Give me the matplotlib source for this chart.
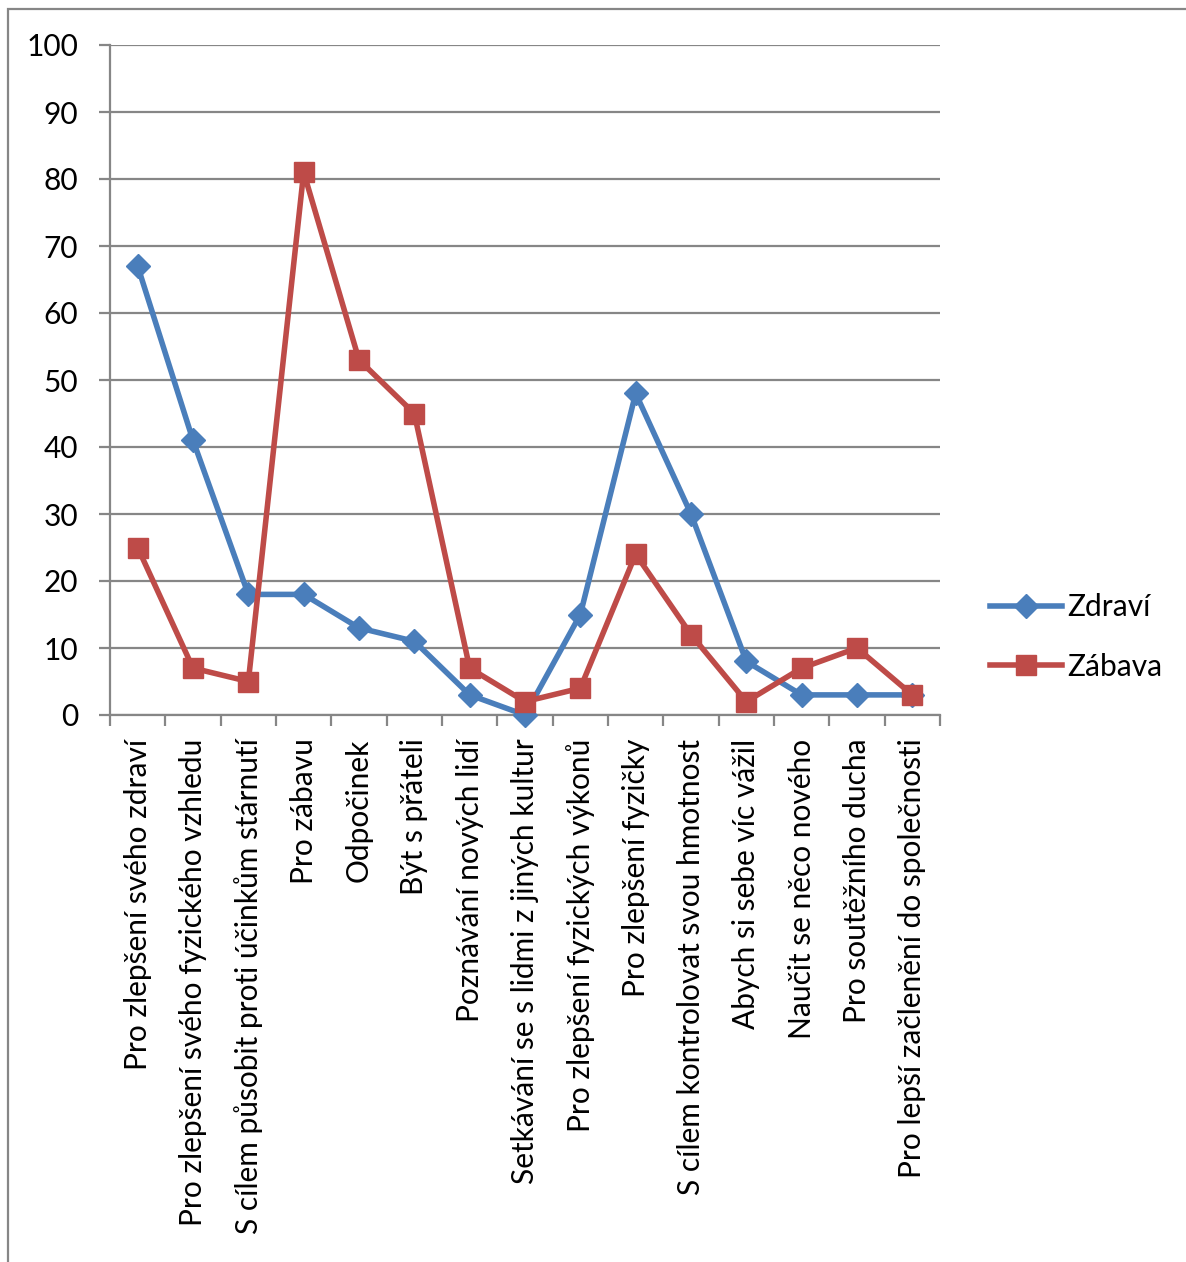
import matplotlib
matplotlib.use("Agg")
import matplotlib.pyplot as plt
from matplotlib.patches import Rectangle
from matplotlib.lines import Line2D

plt.rcParams['font.family'] = ['Lato', 'DejaVu Sans']

categories = [
    "Pro zlepšení svého zdraví",
    "Pro zlepšení svého fyzického vzhledu",
    "S cílem působit proti účinkům stárnutí",
    "Pro zábavu",
    "Odpočinek",
    "Být s přáteli",
    "Poznávání nových lidí",
    "Setkávání se s lidmi z jiných kultur",
    "Pro zlepšení fyzických výkonů",
    "Pro zlepšení fyzičky",
    "S cílem kontrolovat svou hmotnost",
    "Abych si sebe víc vážil",
    "Naučit se něco nového",
    "Pro soutěžního ducha",
    "Pro lepší začlenění do společnosti",
]
zdravi = [67, 41, 18, 18, 13, 11, 3, 0, 15, 48, 30, 8, 3, 3, 3]
zabava = [25, 7, 5, 81, 53, 45, 7, 2, 4, 24, 12, 2, 7, 10, 3]
y_ticks = [0, 10, 20, 30, 40, 50, 60, 70, 80, 90, 100]

BLUE = "#4A7EBB"
RED = "#BE4B48"
GREY = "#868686"
FS = 21.5

W, H = 1186, 1262
fig = plt.figure(figsize=(W / 100, H / 100), dpi=100)

# chart-area frame
fig.add_artist(Rectangle((8 / W, -0.05), 1.2, 1 - 9 / H + 0.05,
                         transform=fig.transFigure, fill=False,
                         edgecolor=GREY, linewidth=1.6))

ax = fig.add_axes([110 / W, 1 - 715 / H, 830 / W, 670 / H])
x = list(range(len(categories)))

ax.plot(x, zdravi, color=BLUE, linewidth=4, marker="D", markersize=12,
        markerfacecolor=BLUE, markeredgecolor=BLUE, label="Zdraví",
        solid_joinstyle="round", clip_on=False, zorder=3)
ax.plot(x, zabava, color=RED, linewidth=4, marker="s", markersize=15,
        markerfacecolor=RED, markeredgecolor=RED, label="Zábava",
        solid_joinstyle="round", clip_on=False, zorder=4)

ax.set_xlim(-0.5, len(categories) - 0.5)
ax.set_ylim(0, 100)
ax.set_yticks(y_ticks)
ax.set_yticklabels([str(v) for v in y_ticks], fontsize=FS)
ax.yaxis.grid(True, color=GREY, linewidth=1.6)
ax.set_axisbelow(True)

# category ticks at boundaries, labels at centres
ax.set_xticks([i - 0.5 for i in range(len(categories) + 1)])
ax.set_xticklabels([])
ax.set_xticks(x, minor=True)
ax.set_xticklabels(categories, minor=True, rotation=90, fontsize=FS,
                   va="top", ha="center")
ax.tick_params(axis="x", which="minor", length=0, pad=17)
ax.tick_params(axis="x", which="major", length=8, width=1.6, color=GREY)
ax.tick_params(axis="y", length=8, width=1.6, color=GREY, pad=15)

for side in ("top", "right"):
    ax.spines[side].set_visible(False)
for side in ("left", "bottom"):
    ax.spines[side].set_color(GREY)
    ax.spines[side].set_linewidth(1.6)

handles = [
    Line2D([], [], color=BLUE, linewidth=4, marker="D", markersize=12),
    Line2D([], [], color=RED, linewidth=4, marker="s", markersize=15),
]
fig.legend(handles, ["Zdraví", "Zábava"], loc="center left",
           bbox_to_anchor=(978 / W, 1 - 637 / H), frameon=False,
           fontsize=FS, handlelength=2.4, handletextpad=0.2,
           labelspacing=1.05, borderaxespad=0)

fig.savefig("out.png", dpi=100, facecolor="white")
